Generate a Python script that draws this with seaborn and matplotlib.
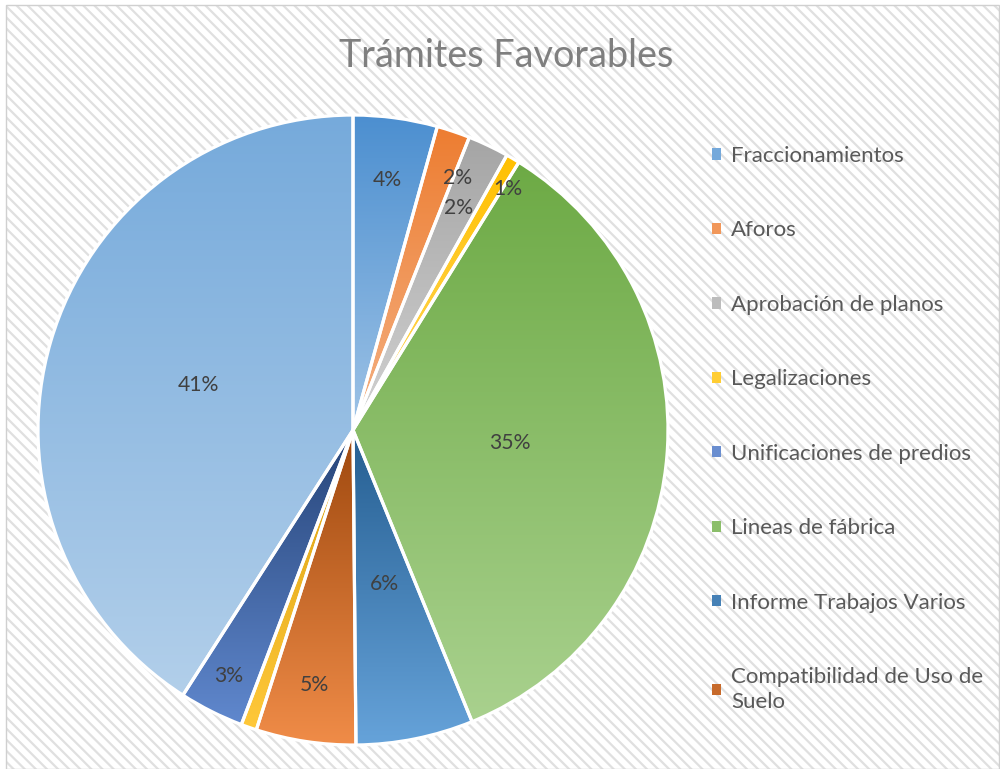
import matplotlib
matplotlib.use("Agg")
import matplotlib.pyplot as plt
from matplotlib.patches import Rectangle, Patch
import numpy as np
import seaborn as sns

# datos (porcentaje de cada tramite)
categorias = ["Fraccionamientos", "Aforos", "Aprobación de planos", "Legalizaciones",
              "Unificaciones de predios", "Lineas de fábrica", "Informe Trabajos Varios",
              "Compatibilidad de Uso de\nSuelo", "", "", ""]
porcentajes = [4.3, 1.7, 2.1, 0.7, 0.0, 34.9, 6.0, 5.1, 0.8, 3.3, 40.8]
con_etiqueta = [True, True, True, True, False, True, True, True, False, True, True]
n_leyenda = 8

# degradado tipo Excel: color arriba -> color abajo
colores_arriba = ["#4C8FD0", "#ED7D31", "#A5A5A5", "#FFC000", "#4472C4", "#6DAA45",
                  "#255E91", "#9E480E", "#D9A010", "#264478", "#76AADB"]
colores_abajo = ["#9EC3E6", "#F4B183", "#D2D2D2", "#FFD966", "#8FAADC", "#A9D18E",
                 "#66A3DA", "#F08C48", "#FFC83A", "#6088CE", "#B2CFEA"]
# posicion de las etiquetas (radio y giro respecto al centro de la porcion)
radio_etiqueta = [0.80, 0.865, 0.78, 0.91, 0.5, 0.50, 0.50, 0.82, 0.5, 0.875, 0.51]
giro_etiqueta = [0, -4, 0, -2.2, 0, 0, 0, 0, 0, 0, 0]

sns.set_theme(style="white")
plt.rcParams['font.family'] = ['Lato', 'DejaVu Sans']

fig = plt.figure(figsize=(10, 7.69), dpi=100)
fig.patch.set_facecolor("white")

# fondo rayado
plt.rcParams['hatch.linewidth'] = 1.6
fondo = Rectangle((0.006, 0), 0.994, 0.994, transform=fig.transFigure, facecolor="white",
                  edgecolor="#E0E0E0", hatch="\\\\\\", linewidth=0, zorder=-5)
fig.patches.append(fondo)
borde = Rectangle((0.006, 0.0005), 0.993, 0.993, transform=fig.transFigure, fill=False,
                  edgecolor="#D0D0D0", linewidth=1, zorder=-4)
fig.patches.append(borde)

ax = fig.add_axes([0.038, 0.0312, 0.63, 0.8192])
ax.patch.set_alpha(0)

wedges, _ = ax.pie(porcentajes, startangle=90, counterclock=False, radius=1,
                   wedgeprops=dict(edgecolor="white", linewidth=2.3))

grad = np.linspace(0, 1, 256).reshape(-1, 1)
for w, v, c1, c2 in zip(wedges, porcentajes, colores_arriba, colores_abajo):
    if v <= 0:
        continue
    ext = w.get_path().get_extents()
    cmap = sns.blend_palette([c2, c1], n_colors=256, as_cmap=True)
    im = ax.imshow(grad, cmap=cmap, extent=[ext.x0, ext.x1, ext.y0, ext.y1],
                   origin="lower", aspect="auto", interpolation="bilinear", zorder=1)
    im.set_clip_path(w)
    w.set_facecolor("none")
    w.set_zorder(2)

# etiquetas de porcentaje
total = sum(porcentajes)
for w, v, mostrar, r, g in zip(wedges, porcentajes, con_etiqueta, radio_etiqueta, giro_etiqueta):
    if not mostrar:
        continue
    ang = np.deg2rad((w.theta1 + w.theta2) / 2 + g)
    ax.text(r * np.cos(ang), r * np.sin(ang), "{:.0f}%".format(100 * v / total),
            ha="center", va="center", fontsize=15.2, color="#404040", zorder=3)

ax.set_xlim(-1, 1)
ax.set_ylim(-1, 1)
ax.set_aspect("equal")
ax.axis("off")

fig.text(0.506, 1 - 67 / 769, "Trámites Favorables", ha="center", va="baseline",
         fontsize=27.2, color="#7F7F7F")

handles = [Patch(facecolor=sns.blend_palette([c1, c2], 3)[1], edgecolor="none")
           for c1, c2 in zip(colores_arriba[:n_leyenda], colores_abajo[:n_leyenda])]
leg = fig.legend(handles, categorias[:n_leyenda], loc="upper left",
                 bbox_to_anchor=(0.712, 1 - 146 / 769), frameon=False, fontsize=16,
                 labelcolor="#595959", handlelength=0.4, handleheight=0.4,
                 handletextpad=0.45, labelspacing=2.45, borderpad=0, borderaxespad=0)
leg.get_texts()[-1].set_linespacing(1.3)

fig.savefig("out.png", dpi=100, facecolor=fig.get_facecolor())
